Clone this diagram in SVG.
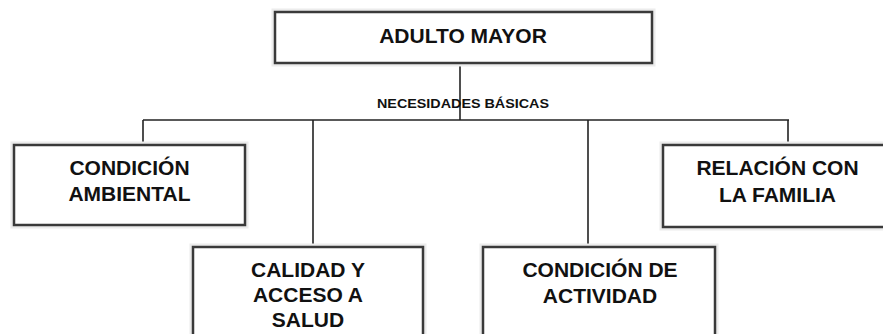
<svg xmlns="http://www.w3.org/2000/svg" width="883" height="334" viewBox="0 0 883 334">
<style>
.box{fill:#fff;stroke:#3a3a3a;stroke-width:2.5}
.halo{fill:none;stroke:#ececec;stroke-width:7}
.t{font-family:"Liberation Sans",Arial,sans-serif;font-weight:bold;font-size:21px;fill:#111;text-anchor:middle}
.s{font-family:"Liberation Sans",Arial,sans-serif;font-weight:bold;font-size:13px;fill:#111;text-anchor:middle}
.c{fill:none;stroke:#222;stroke-width:1.6}
</style>
<rect width="883" height="334" fill="#fff"/>
<g id="connectors">
<line class="c" x1="460" y1="63" x2="460" y2="120"/>
<line class="c" x1="143" y1="120" x2="789" y2="120"/>
<line class="c" x1="143" y1="120" x2="143" y2="145"/>
<line class="c" x1="313" y1="120" x2="313" y2="247"/>
<line class="c" x1="588" y1="120" x2="588" y2="247"/>
<line class="c" x1="788" y1="120" x2="788" y2="145"/>
</g>
<text class="s" x="463" y="108" textLength="172" lengthAdjust="spacingAndGlyphs">NECESIDADES BÁSICAS</text>
<g id="adulto-mayor">
<rect class="halo" x="275" y="12" width="377" height="51"/>
<rect class="box" x="275" y="12" width="377" height="51"/>
<text class="t" x="463" y="43">ADULTO MAYOR</text>
</g>
<g id="condicion-ambiental">
<rect class="halo" x="14" y="145" width="231" height="80"/>
<rect class="box" x="14" y="145" width="231" height="80"/>
<text class="t" x="129.5" y="175">CONDICIÓN</text>
<text class="t" x="129.5" y="200.5">AMBIENTAL</text>
</g>
<g id="calidad-acceso-salud">
<rect class="halo" x="193" y="247" width="230" height="100"/>
<rect class="box" x="193" y="247" width="230" height="100"/>
<text class="t" x="308" y="277">CALIDAD Y</text>
<text class="t" x="308" y="302">ACCESO A</text>
<text class="t" x="308" y="327">SALUD</text>
</g>
<g id="condicion-actividad">
<rect class="halo" x="483" y="247" width="232" height="100"/>
<rect class="box" x="483" y="247" width="232" height="100"/>
<text class="t" x="600" y="277">CONDICIÓN DE</text>
<text class="t" x="600" y="303">ACTIVIDAD</text>
</g>
<g id="relacion-familia">
<rect class="halo" x="663" y="145" width="230" height="82"/>
<rect class="box" x="663" y="145" width="230" height="82"/>
<text class="t" x="777.5" y="175">RELACIÓN CON</text>
<text class="t" x="777.5" y="201.5">LA FAMILIA</text>
</g>
</svg>
